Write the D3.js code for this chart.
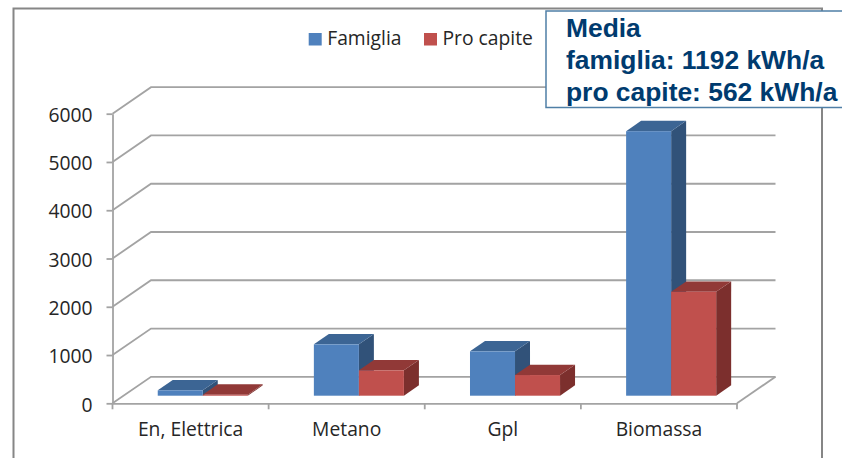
<!DOCTYPE html>
<html>
<head>
<meta charset="utf-8">
<title>Consumi</title>
<script src="https://d3js.org/d3.v7.min.js"></script>
<style>
  html, body { margin: 0; padding: 0; background: #fff; }
  svg { display: block; }
  .lab { font-family: "Open Sans", sans-serif; font-size: 19.3px; fill: #262626; }
  .note { font-family: "Liberation Sans", Arial, sans-serif; font-weight: bold; font-size: 26.4px; fill: #003b6f; }
</style>
</head>
<body>
<div id="chart"></div>
<script>
const categories = ["En, Elettrica", "Metano", "Gpl", "Biomassa"];
const seriesNames = ["Famiglia", "Pro capite"];
const famiglia = [112, 1064, 919, 5480];
const proCapite = [20, 526, 428, 2153];
const yTicks = [0, 1000, 2000, 3000, 4000, 5000, 6000];
const noteLines = ["Media", "famiglia: 1192 kWh/a", "pro capite: 562 kWh/a"];

const width = 842, height = 458;
const wallDx = 38.5, wallDy = 26.5;   // depth of the floor
const barDx = 15, barDy = 10.4;       // depth of one bar
const liftDx = 12.2, liftDy = 7.6;    // bars stand inside the floor
const gridCol = "#a3a3a3";
const colors = {
  "Famiglia": { front: "#4f81bd", top: "#3c6594", side: "#315279" },
  "Pro capite": { front: "#c0504d", top: "#913937", side: "#7c2f2d" }
};

const svg = d3.select("#chart").append("svg").attr("width", width).attr("height", height);

const x = d3.scaleBand().domain(categories).range([112.5, 737]);
const xInner = d3.scaleBand().domain(seriesNames).range([0, x.bandwidth()]).paddingOuter(0.734);
const y = d3.scaleLinear().domain([0, 6000]).range([403.3, 113.7]);

// outer frame, runs off the bottom of the picture
svg.append("path")
  .attr("d", "M13.5,470V8.5H822V470")
  .attr("fill", "none").attr("stroke", "#868686").attr("stroke-width", 2);

// walls
const grid = svg.append("g").attr("fill", "none").attr("stroke", gridCol).attr("stroke-width", 1.8);
grid.selectAll("path").data(yTicks).join("path")
  .attr("d", d => {
    const p = d3.path();
    p.moveTo(x.range()[0], y(d));
    p.lineTo(x.range()[0] + wallDx, y(d) - wallDy);
    p.lineTo(x.range()[1] + wallDx, y(d) - wallDy);
    return p.toString();
  });
grid.append("path")
  .attr("d", `M${x.range()[1]},${y(0)}L${x.range()[1] + wallDx},${y(0) - wallDy}`);

// axes
const yAxis = svg.append("g")
  .attr("transform", `translate(${x.range()[0]},0)`)
  .call(d3.axisLeft(y).tickValues(yTicks).tickFormat(d3.format("d")).tickSize(6).tickSizeOuter(0).tickPadding(14));
const xAxis = svg.append("g")
  .attr("transform", `translate(0,${y(0)})`)
  .call(d3.axisBottom(x).tickSize(0).tickPadding(19));
[yAxis, xAxis].forEach(a => {
  a.selectAll("path.domain").attr("stroke", gridCol).attr("stroke-width", 1.8);
  a.selectAll("line").attr("stroke", gridCol).attr("stroke-width", 1.8);
  a.selectAll("text").attr("class", "lab").attr("fill", null);
});
yAxis.selectAll("text").attr("dy", "0.4em");
xAxis.selectAll(".sep").data(categories.map(c => x(c)).concat(x.range()[1])).join("line")
  .attr("class", "sep")
  .attr("x1", d => d).attr("x2", d => d)
  .attr("y1", 0).attr("y2", 6)
  .attr("stroke", gridCol).attr("stroke-width", 1.8);

// bars, blue first so the red one sits over its side face
const bars = categories.flatMap((c, i) => [
  { cat: c, name: seriesNames[0], value: famiglia[i] },
  { cat: c, name: seriesNames[1], value: proCapite[i] }
]);
const barG = svg.append("g").selectAll("g").data(bars).join("g")
  .attr("transform", d => `translate(${x(d.cat) + xInner(d.name) + liftDx},${-liftDy})`);
const w = xInner.bandwidth();
barG.append("path")
  .attr("fill", d => colors[d.name].side)
  .attr("d", d => `M${w},${y(d.value)}l${barDx},${-barDy}V${y(0) - barDy}l${-barDx},${barDy}Z`);
barG.append("path")
  .attr("fill", d => colors[d.name].top)
  .attr("d", d => `M0,${y(d.value)}l${barDx},${-barDy}h${w}l${-barDx},${barDy}Z`);
barG.append("rect")
  .attr("fill", d => colors[d.name].front)
  .attr("x", 0).attr("width", w)
  .attr("y", d => y(d.value))
  .attr("height", d => y(0) - y(d.value));

// legend
const legendX = [308.7, 424];
const legend = svg.append("g").selectAll("g").data(seriesNames).join("g")
  .attr("transform", (d, i) => `translate(${legendX[i]},33)`);
legend.append("rect").attr("width", 13).attr("height", 12.5).attr("fill", d => colors[d].front);
legend.append("text").attr("class", "lab").attr("x", 18.5).attr("y", 12).text(d => d);

// note box
svg.append("rect")
  .attr("x", 546).attr("y", 11).attr("width", 310).attr("height", 96.5)
  .attr("fill", "#fff").attr("stroke", "#4f7fa6").attr("stroke-width", 1.5);
const noteY = [36.5, 69, 100.5];
svg.selectAll(".note").data(noteLines).join("text")
  .attr("class", "note").attr("x", 566)
  .attr("y", (d, i) => noteY[i]).text(d => d);
</script>
</body>
</html>
